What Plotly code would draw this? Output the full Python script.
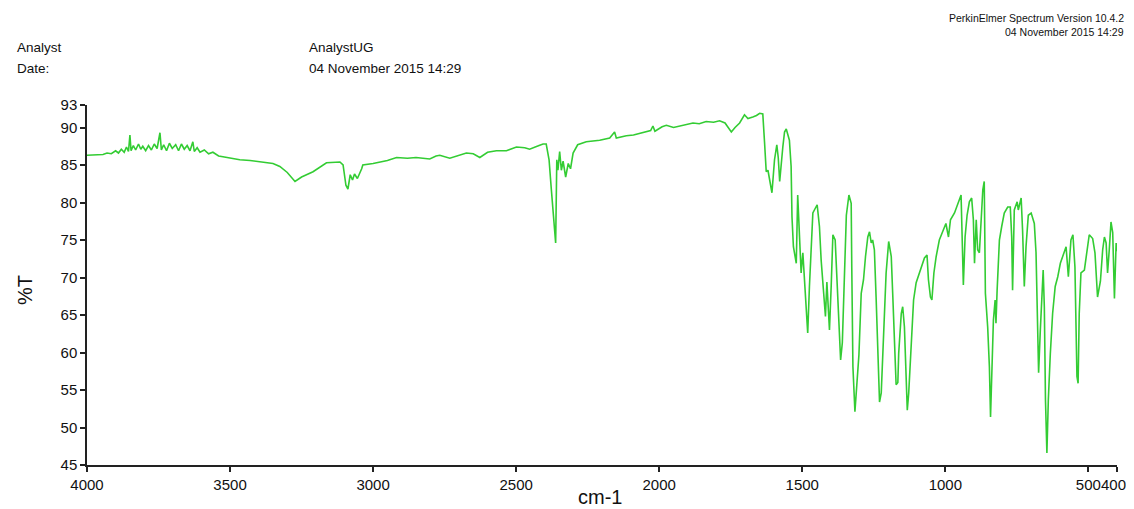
import plotly.graph_objects as go

# Wavenumber (cm-1) and transmittance (%T)
wavenumber = [
    4000, 3960, 3944, 3930, 3915, 3900, 3890, 3880, 3870, 3862, 3855, 3850, 3846, 3838, 3830,
    3820, 3812, 3805, 3795, 3785, 3775, 3765, 3755, 3745, 3740, 3732, 3722, 3712, 3702, 3690,
    3680, 3670, 3660, 3650, 3640, 3630, 3625, 3615, 3605, 3590, 3575, 3560, 3540, 3525, 3500,
    3466, 3430, 3385, 3350, 3326, 3300, 3273, 3250, 3210, 3180, 3163, 3116, 3105, 3095, 3088,
    3080, 3072, 3065, 3055, 3040, 3036, 3000, 2977, 2950, 2918, 2880, 2850, 2802, 2780, 2767,
    2732, 2700, 2674, 2650, 2627, 2600, 2569, 2534, 2512, 2499, 2470, 2453, 2420, 2406, 2395,
    2385, 2377, 2370, 2362, 2358, 2354, 2348, 2342, 2336, 2327, 2318, 2310, 2301, 2290, 2285,
    2255, 2215, 2208, 2173, 2156, 2150, 2115, 2090, 2057, 2030, 2022, 2015, 1990, 1975, 1950,
    1929, 1900, 1882, 1860, 1836, 1810, 1789, 1770, 1755, 1748, 1735, 1719, 1702, 1690, 1673,
    1660, 1649, 1638, 1632, 1626, 1620, 1606, 1597, 1589, 1584, 1579, 1568, 1562, 1556, 1545,
    1539, 1536, 1531, 1521, 1516, 1510, 1504, 1498, 1492, 1486, 1481, 1475, 1469, 1463, 1448,
    1440, 1434, 1426, 1419, 1414, 1409, 1405, 1399, 1393, 1385, 1379, 1373, 1366, 1360, 1352,
    1346, 1337, 1329, 1327, 1323, 1316, 1309, 1302, 1294, 1286, 1279, 1271, 1265, 1259, 1254,
    1248, 1242, 1236, 1230, 1224, 1219, 1213, 1207, 1198, 1189, 1184, 1178, 1172, 1166, 1163,
    1154, 1149, 1143, 1137, 1133, 1128, 1122, 1116, 1111, 1102, 1090, 1079, 1073, 1064, 1059,
    1052, 1047, 1040, 1032, 1021, 1009, 998, 989, 982, 968, 957, 945, 941, 937, 931,
    924, 916, 908, 902, 898, 892, 887, 881, 875, 869, 864, 860, 852, 846, 842,
    838, 832, 826, 823, 819, 811, 803, 794, 782, 773, 768, 765, 759, 749, 745,
    735, 730, 724, 718, 710, 700, 689, 683, 677, 674, 668, 665, 658, 654, 650,
    645, 640, 633, 625, 616, 607, 598, 590, 578, 570, 561, 554, 547, 540, 536,
    532, 526, 514, 505, 497, 485, 477, 468, 458, 450, 444, 438, 433, 427, 421,
    415, 409, 403, 400,
]
transmittance = [
    86.3, 86.3, 86.4, 86.6, 86.5, 86.9, 86.6, 87.1, 86.7, 87.4, 86.8, 89.0, 86.9, 87.6, 87.0,
    87.8, 87.1, 87.5, 86.9, 87.6, 87.0, 87.8, 87.2, 89.3, 87.0, 87.7, 86.9, 87.9, 87.2, 87.7,
    86.9, 87.8, 87.1, 87.6, 86.9, 88.1, 86.8, 87.3, 86.7, 87.0, 86.5, 86.7, 86.2, 86.1, 85.9,
    85.7, 85.6, 85.4, 85.2, 84.8, 84.0, 82.8, 83.4, 84.1, 84.8, 85.3, 85.4, 85.0, 82.3, 81.8,
    83.7, 83.0, 83.8, 83.2, 84.5, 85.0, 85.2, 85.4, 85.6, 86.0, 85.9, 86.0, 85.8, 86.2, 86.3,
    85.9, 86.3, 86.6, 86.5, 86.0, 86.7, 86.9, 86.9, 87.2, 87.4, 87.3, 87.1, 87.6, 87.8, 87.8,
    85.7, 81.7, 78.1, 74.6, 85.7, 84.3, 86.8, 84.3, 85.5, 83.4, 85.2, 84.5, 86.6, 87.4, 87.7,
    88.1, 88.3, 88.3, 88.6, 89.4, 88.6, 88.9, 89.0, 89.3, 89.6, 90.2, 89.5, 90.1, 90.3, 90.0,
    90.2, 90.4, 90.6, 90.5, 90.8, 90.7, 90.9, 90.6, 89.8, 89.4, 90.0, 90.6, 91.7, 91.2, 91.4,
    91.6, 91.9, 91.8, 88.1, 84.1, 84.3, 81.3, 85.7, 87.7, 86.0, 82.8, 87.4, 89.4, 89.8, 88.3,
    84.8, 78.1, 74.1, 71.9, 81.0, 75.9, 70.6, 73.3, 69.3, 64.3, 62.6, 68.8, 74.1, 78.6, 79.7,
    76.8, 72.3, 68.3, 64.8, 69.4, 65.2, 63.0, 68.8, 75.7, 75.0, 70.1, 63.4, 59.0, 61.3, 71.0,
    78.3, 81.0, 79.9, 71.4, 58.1, 52.1, 55.9, 59.7, 67.9, 69.7, 72.8, 75.4, 76.1, 74.6, 75.0,
    73.7, 67.4, 59.0, 53.4, 54.6, 59.9, 65.7, 70.6, 74.8, 72.8, 67.9, 61.3, 55.7, 56.0, 59.9,
    65.2, 66.1, 63.4, 54.6, 52.3, 54.6, 58.6, 64.3, 67.0, 69.3, 70.6, 71.9, 72.6, 73.0, 69.7,
    67.4, 67.0, 70.6, 72.8, 75.0, 76.3, 77.2, 75.4, 77.7, 78.6, 79.9, 81.0, 75.0, 69.0, 75.4,
    78.3, 80.1, 80.6, 77.7, 71.9, 77.7, 73.7, 73.3, 78.6, 81.7, 82.8, 67.9, 63.4, 58.1, 51.4,
    58.1, 64.3, 67.0, 63.9, 68.3, 75.0, 76.8, 78.6, 79.4, 79.4, 75.4, 68.3, 79.0, 80.1, 79.0,
    80.6, 76.3, 68.8, 74.1, 78.3, 78.6, 77.2, 73.3, 61.7, 57.3, 63.0, 66.1, 71.0, 66.1, 53.7,
    46.6, 53.7, 59.9, 65.2, 68.8, 70.1, 71.9, 72.8, 74.1, 70.1, 75.0, 75.7, 71.4, 56.8, 55.9,
    65.2, 70.6, 71.0, 73.7, 75.7, 75.2, 73.3, 67.4, 69.5, 73.7, 75.4, 74.6, 70.6, 73.7, 77.4,
    76.0, 67.2, 74.6, 73.5,
]
x_ticks = [4000, 3500, 3000, 2500, 2000, 1500, 1000, 500, 400]
x_tick_labels = ["4000", "3500", "3000", "2500", "2000", "1500", "1000", "500", "400"]
y_ticks = [45, 50, 55, 60, 65, 70, 75, 80, 85, 90, 93]

FONT = "Liberation Sans, Arial, sans-serif"

fig = go.Figure()
fig.add_trace(go.Scatter(
    x=wavenumber, y=transmittance, mode="lines",
    line=dict(color="#33CC33", width=1.6), showlegend=False,
))

# The page body has an 8px margin on every side; work in screen pixels.
OFF = 8
W, H = 1134 - 2 * OFF, 509 - OFF
# plot area in screen pixels: x 87..1117, y 105..465
L, R, T, B = 87, 1117, 105, 465
def px(x):
    return (x - L) / (R - L)
def py(y):
    return (B - y) / (B - T)

# the last tick label sits at the figure edge: draw it as right-anchored text
x_ticktext = x_tick_labels[:-1] + [""]

annotations = [
    dict(text="Analyst", x=px(15), y=py(48), xanchor="left", font=dict(size=13.5)),
    dict(text="Date:", x=px(15), y=py(69), xanchor="left", font=dict(size=13.5)),
    dict(text="AnalystUG", x=px(307), y=py(48), xanchor="left", font=dict(size=13.5)),
    dict(text="04 November 2015 14:29", x=px(307), y=py(69), xanchor="left", font=dict(size=13.5)),
    dict(text="PerkinElmer Spectrum Version 10.4.2", x=px(1125), y=py(18), xanchor="right",
         font=dict(size=10.5), borderpad=0),
    dict(text="04 November 2015 14:29", x=px(1125), y=py(32), xanchor="right",
         font=dict(size=10.5), borderpad=0),
    dict(text="%T", x=px(25), y=py(290), xanchor="center", textangle=-90, font=dict(size=20)),
    dict(text="cm-1", x=px(600), y=py(497), xanchor="center", font=dict(size=20)),
    dict(text=x_tick_labels[-1], x=px(1127), y=py(484), xanchor="right", font=dict(size=15),
         borderpad=0),
]
for a in annotations:
    a.update(xref="paper", yref="paper", yanchor="middle", showarrow=False)
    a["font"].update(family=FONT, color="#111111")

fig.update_layout(
    width=W, height=H,
    margin=dict(l=L - OFF, r=(W + OFF) - R, t=T - OFF, b=(H + OFF) - B, pad=0),
    paper_bgcolor="white", plot_bgcolor="white",
    font=dict(family=FONT, color="#111111"),
    annotations=annotations,
    xaxis=dict(
        range=[4000, 400], tickvals=x_ticks, ticktext=x_ticktext,
        tickangle=0, showgrid=False, zeroline=False, showline=True,
        linecolor="#222222", linewidth=1.5, ticks="outside", ticklen=5,
        tickcolor="#222222", tickwidth=1.5, tickfont=dict(size=15, family=FONT, color="#111111"),
        mirror=False,
    ),
    yaxis=dict(
        range=[45, 93], tickvals=y_ticks, ticktext=[str(v) for v in y_ticks],
        showgrid=False, zeroline=False, showline=True,
        linecolor="#222222", linewidth=1.5, ticks="outside", ticklen=5,
        tickcolor="#222222", tickwidth=1.5, tickfont=dict(size=15, family=FONT, color="#111111"),
        mirror=False,
    ),
)

fig.write_html("out.html", config={"displayModeBar": False})
